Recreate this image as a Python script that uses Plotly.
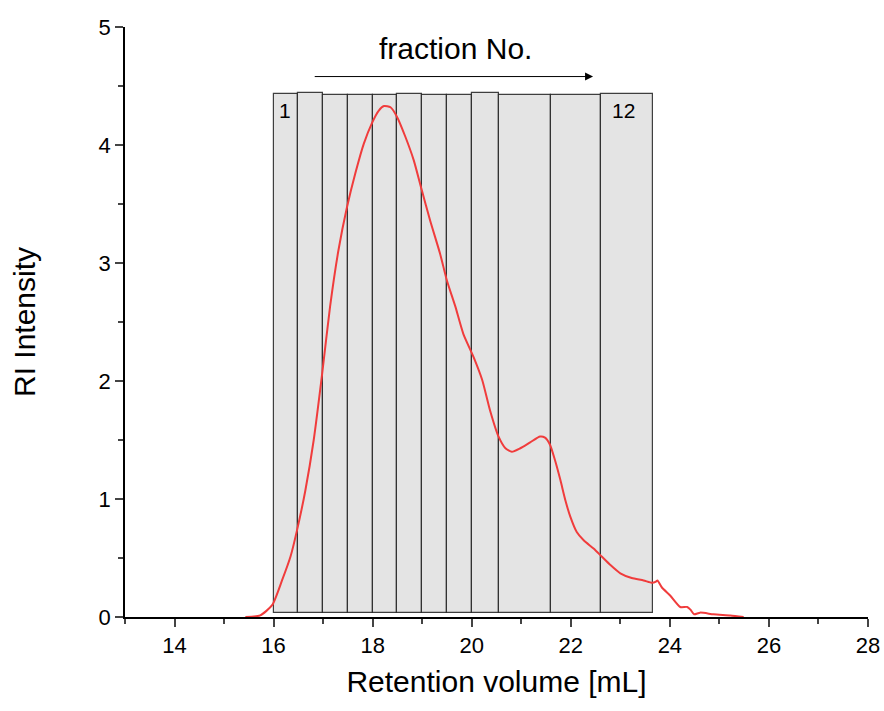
import plotly.graph_objects as go

# Fraction bar edges (mL) and bar tops
bar_edges = [16.0, 16.5, 17.0, 17.5, 18.0, 18.5, 19.0, 19.5, 20.0, 20.55, 21.6, 22.6, 23.65]
bar_tops = [4.43, 4.44, 4.42, 4.42, 4.42, 4.43, 4.42, 4.42, 4.44, 4.42, 4.42, 4.43]
bar_base = 0.03

# RI trace
ret_vol = [15.43, 15.73, 15.97, 16.17, 16.34, 16.47, 16.64, 16.81, 16.98, 17.14, 17.31, 17.48,
           17.65, 17.82, 17.99, 18.12, 18.23, 18.36, 18.49, 18.66, 18.83, 18.99, 19.16, 19.36,
           19.50, 19.67, 19.83, 20.04, 20.21, 20.37, 20.54, 20.68, 20.81, 20.98, 21.18, 21.38,
           21.48, 21.58, 21.68, 21.79, 21.89, 21.99, 22.12, 22.26, 22.46, 22.63, 22.80, 23.00,
           23.23, 23.47, 23.64, 23.72, 23.75, 23.84, 24.01, 24.21, 24.35, 24.42, 24.49, 24.61,
           24.88, 25.22, 25.49]
ri = [0.0, 0.014, 0.10, 0.31, 0.51, 0.73, 1.07, 1.50, 2.06, 2.63, 3.11, 3.47,
      3.76, 4.01, 4.19, 4.29, 4.33, 4.32, 4.24, 4.07, 3.87, 3.62, 3.36, 3.08,
      2.85, 2.63, 2.40, 2.20, 2.01, 1.75, 1.53, 1.43, 1.40, 1.43, 1.48, 1.53,
      1.52, 1.46, 1.33, 1.16, 0.99, 0.85, 0.72, 0.65, 0.58, 0.51, 0.44, 0.37,
      0.33, 0.31, 0.29, 0.30, 0.31, 0.25, 0.18, 0.085, 0.085, 0.06, 0.023, 0.037,
      0.023, 0.012, 0.0]

x_ticks = [14, 16, 18, 20, 22, 24, 26, 28]
y_ticks = [0, 1, 2, 3, 4, 5]

centers = [(a + b) / 2 for a, b in zip(bar_edges[:-1], bar_edges[1:])]
widths = [b - a for a, b in zip(bar_edges[:-1], bar_edges[1:])]
heights = [t - bar_base for t in bar_tops]

font = "Liberation Sans, Arial, sans-serif"

fig = go.Figure()
fig.add_trace(go.Bar(
    x=centers, y=heights, base=bar_base, width=widths,
    marker=dict(color="#e4e4e4", line=dict(color="rgba(30,30,30,0.85)", width=1.2)),
    showlegend=False, hoverinfo="skip"))
fig.add_trace(go.Scatter(
    x=ret_vol, y=ri, mode="lines", line=dict(color="#f03c3c", width=2, shape="spline", smoothing=0.6),
    showlegend=False))

fig.update_layout(
    width=884, height=711,
    margin=dict(l=125, r=16, t=27, b=94, autoexpand=False),
    paper_bgcolor="white", plot_bgcolor="white",
    font=dict(family=font, color="black"),
    bargap=0,
    xaxis=dict(range=[13, 28], tickvals=x_ticks, ticks="outside", ticklen=8, tickwidth=1.5,
               showline=True, linecolor="black", linewidth=1.5, showgrid=False, zeroline=False,
               tickfont=dict(size=22), automargin=False,
               minor=dict(dtick=1, tick0=13, ticks="outside", ticklen=5, tickwidth=1.5, showgrid=False),
               title=dict(text="Retention volume [mL]", font=dict(size=30), standoff=14)),
    yaxis=dict(range=[0, 5], tickvals=y_ticks, ticks="outside", ticklen=8, tickwidth=1.5,
               showline=True, linecolor="black", linewidth=1.5, showgrid=False, zeroline=False,
               tickfont=dict(size=22), automargin=False,
               minor=dict(dtick=0.5, tick0=0, ticks="outside", ticklen=5, tickwidth=1.5, showgrid=False),
               title=dict(text="RI Intensity", font=dict(size=30), standoff=54)),
)

fig.add_annotation(x=16.24, y=4.29, text="1", showarrow=False, font=dict(size=21))
fig.add_annotation(x=23.06, y=4.29, text="12", showarrow=False, font=dict(size=21))
fig.add_annotation(x=19.67, y=4.82, text="fraction No.", showarrow=False, font=dict(size=30))
fig.add_annotation(x=22.45, y=4.58, ax=16.8, ay=4.58, axref="x", ayref="y", xref="x", yref="y",
                   text="", showarrow=True, arrowhead=2, arrowsize=1.6, arrowwidth=1, arrowcolor="black")

fig.write_html("out.html")
